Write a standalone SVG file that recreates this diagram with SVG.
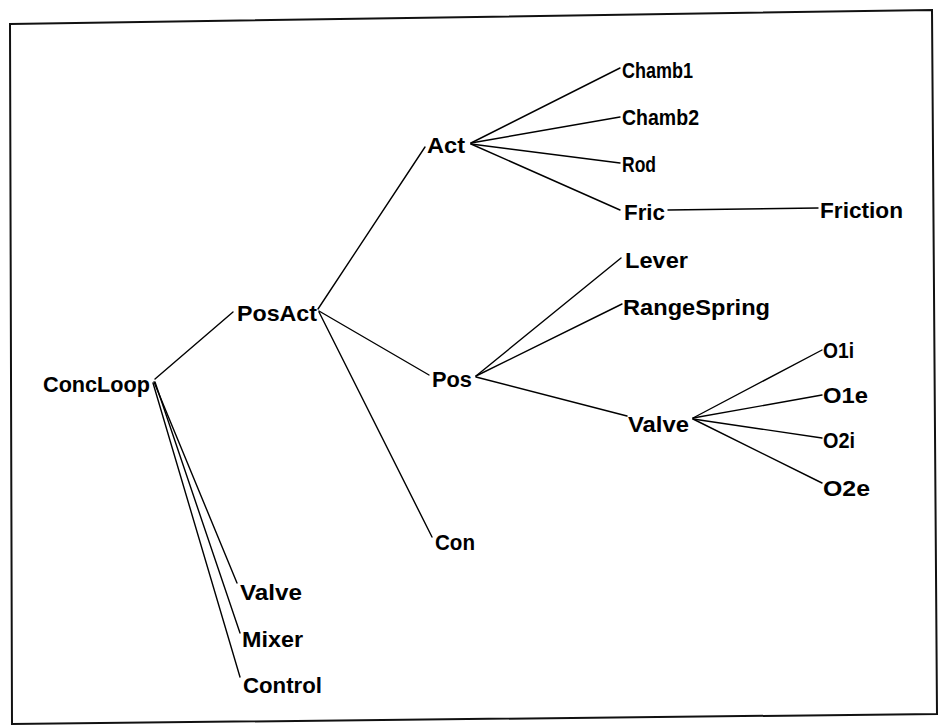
<svg xmlns="http://www.w3.org/2000/svg" width="941" height="727" viewBox="0 0 941 727">
<style>
  .frame { fill: none; stroke: #111; stroke-width: 2; }
  .edge { stroke: #000; stroke-width: 1.4; fill: none; stroke-linecap: round; }
  .lbl { font-family: "Liberation Sans", Arial, sans-serif; font-weight: bold; font-size: 22px; fill: #000; }
</style>
<rect width="941" height="727" fill="#fff"/>
<polygon class="frame" points="10,24 932,10 937,714 12,724"/>
<g id="connectors">
  <line class="edge" x1="155" y1="379" x2="233" y2="312"/>
  <line class="edge" x1="154" y1="382" x2="237" y2="583"/>
  <line class="edge" x1="155" y1="382" x2="240" y2="633"/>
  <line class="edge" x1="153" y1="383" x2="240" y2="677"/>
  <line class="edge" x1="318" y1="309" x2="425" y2="147"/>
  <line class="edge" x1="319" y1="311" x2="429" y2="375"/>
  <line class="edge" x1="319" y1="312" x2="432" y2="537"/>
  <line class="edge" x1="471" y1="143" x2="620" y2="68"/>
  <line class="edge" x1="471" y1="143" x2="620" y2="117"/>
  <line class="edge" x1="471" y1="144" x2="620" y2="163"/>
  <line class="edge" x1="471" y1="144" x2="620" y2="210"/>
  <line class="edge" x1="668" y1="210" x2="818" y2="208"/>
  <line class="edge" x1="476" y1="376" x2="621" y2="258"/>
  <line class="edge" x1="476" y1="376" x2="622" y2="304"/>
  <line class="edge" x1="476" y1="377" x2="627" y2="416"/>
  <line class="edge" x1="693" y1="418" x2="822" y2="350"/>
  <line class="edge" x1="693" y1="418" x2="822" y2="395"/>
  <line class="edge" x1="693" y1="419" x2="822" y2="438"/>
  <line class="edge" x1="693" y1="419" x2="822" y2="483"/>
</g>
<g id="ConcLoop"><text class="lbl" x="43" y="392" textLength="107" lengthAdjust="spacingAndGlyphs">ConcLoop</text></g>
<g id="PosAct"><text class="lbl" x="237" y="321" textLength="80" lengthAdjust="spacingAndGlyphs">PosAct</text></g>
<g id="Act"><text class="lbl" x="427" y="153" textLength="38" lengthAdjust="spacingAndGlyphs">Act</text></g>
<g id="Chamb1"><text class="lbl" x="622" y="78" textLength="71" lengthAdjust="spacingAndGlyphs">Chamb1</text></g>
<g id="Chamb2"><text class="lbl" x="622" y="125" textLength="77" lengthAdjust="spacingAndGlyphs">Chamb2</text></g>
<g id="Rod"><text class="lbl" x="622" y="172" textLength="34" lengthAdjust="spacingAndGlyphs">Rod</text></g>
<g id="Fric"><text class="lbl" x="624" y="220" textLength="41" lengthAdjust="spacingAndGlyphs">Fric</text></g>
<g id="Friction"><text class="lbl" x="820" y="218" textLength="83" lengthAdjust="spacingAndGlyphs">Friction</text></g>
<g id="Lever"><text class="lbl" x="625" y="268" textLength="63" lengthAdjust="spacingAndGlyphs">Lever</text></g>
<g id="RangeSpring"><text class="lbl" x="623" y="315" textLength="147" lengthAdjust="spacingAndGlyphs">RangeSpring</text></g>
<g id="Pos"><text class="lbl" x="432" y="387" textLength="40" lengthAdjust="spacingAndGlyphs">Pos</text></g>
<g id="Valve2"><text class="lbl" x="628" y="432" textLength="61" lengthAdjust="spacingAndGlyphs">Valve</text></g>
<g id="O1i"><text class="lbl" x="823" y="358" textLength="31" lengthAdjust="spacingAndGlyphs">O1i</text></g>
<g id="O1e"><text class="lbl" x="823" y="403" textLength="45" lengthAdjust="spacingAndGlyphs">O1e</text></g>
<g id="O2i"><text class="lbl" x="823" y="448" textLength="32" lengthAdjust="spacingAndGlyphs">O2i</text></g>
<g id="O2e"><text class="lbl" x="823" y="496" textLength="47" lengthAdjust="spacingAndGlyphs">O2e</text></g>
<g id="Con"><text class="lbl" x="435" y="550" textLength="40" lengthAdjust="spacingAndGlyphs">Con</text></g>
<g id="Valve1"><text class="lbl" x="240" y="600" textLength="62" lengthAdjust="spacingAndGlyphs">Valve</text></g>
<g id="Mixer"><text class="lbl" x="242" y="647" textLength="61" lengthAdjust="spacingAndGlyphs">Mixer</text></g>
<g id="Control"><text class="lbl" x="243" y="693" textLength="79" lengthAdjust="spacingAndGlyphs">Control</text></g>
</svg>
